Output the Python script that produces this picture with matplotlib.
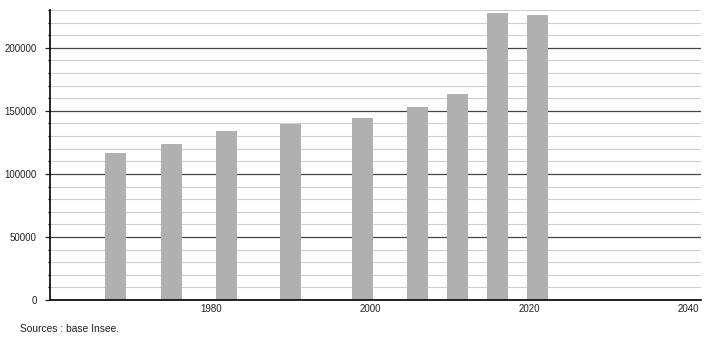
import matplotlib.pyplot as plt
from matplotlib.ticker import MultipleLocator

# recensements (Insee)
years = [1968, 1975, 1982, 1990, 1999, 2006, 2011, 2016, 2021]
population = [116600, 124000, 134300, 139800, 144600, 153400, 163700, 227300, 225700]

x_ticks = [1980, 2000, 2020, 2040]
source_text = "Sources : base Insee."

plt.rcParams['font.family'] = ['Liberation Sans', 'DejaVu Sans']
plt.rcParams['font.size'] = 7

fig = plt.figure(figsize=(7.1, 3.4), dpi=100)
ax = fig.add_axes([50 / 710, 40 / 340, 651 / 710, 290 / 340])

ax.bar(years, population, width=2.64, color='#b0b0b0', zorder=3)

ax.set_xlim(1959.76, 2041.6)
ax.set_ylim(0, 230000)

ax.yaxis.set_major_locator(MultipleLocator(50000))
ax.yaxis.set_minor_locator(MultipleLocator(10000))
ax.grid(which='minor', axis='y', color='#cfcfcf', linewidth=0.8, zorder=1)
ax.grid(which='major', axis='y', color='#444444', linewidth=0.9, zorder=2)

ax.set_xticks(x_ticks)
ax.set_xticklabels([str(y) for y in x_ticks])
ax.tick_params(axis='x', length=0, pad=3, colors='#222222')
ax.tick_params(axis='y', which='major', length=3.6, width=0.9, pad=6, colors='#222222')
ax.tick_params(axis='y', which='minor', length=1.5, width=0.9)

for side in ['top', 'right']:
    ax.spines[side].set_visible(False)
ax.spines['left'].set_linewidth(1.2)
ax.spines['bottom'].set_linewidth(1.2)
ax.spines['left'].set_zorder(4)
ax.spines['bottom'].set_zorder(4)

fig.text(20 / 710, 1 - 329 / 340, source_text, ha='left', va='center', fontsize=7.4, color='#222222')

fig.savefig('out.png', dpi=100)
